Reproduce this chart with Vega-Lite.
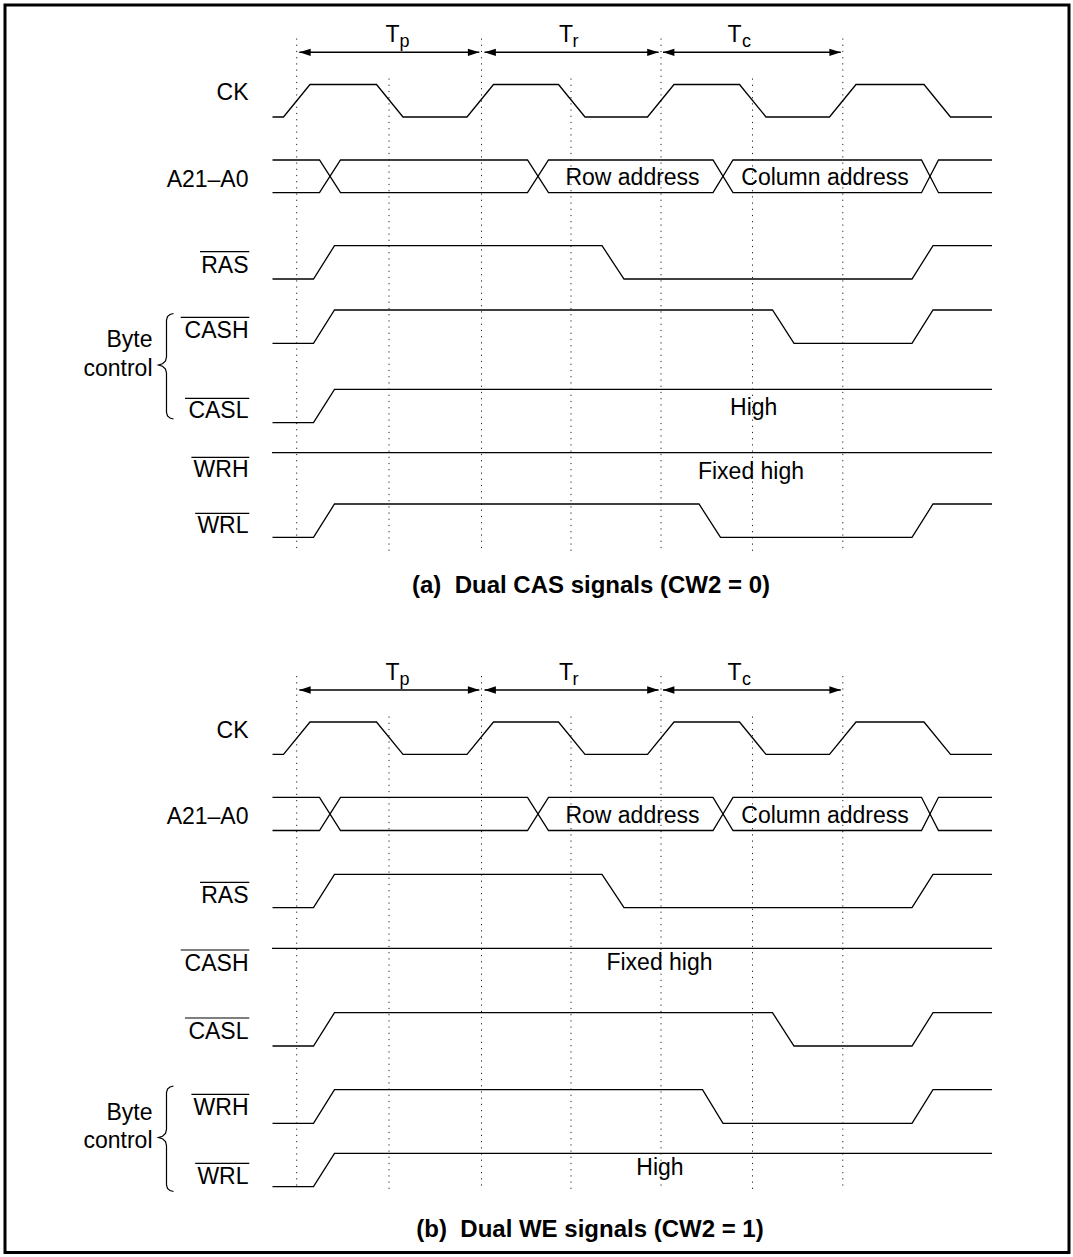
{
  "$schema": "https://vega.github.io/schema/vega-lite/v6.json",
  "width": 1073,
  "height": 1257,
  "autosize": {"type": "fit", "contains": "padding"},
  "padding": 0,
  "background": "white",
  "config": {"view": {"stroke": null}, "axis": {"disable": true}, "legend": {"disable": true}},
  "datasets": {
    "frame": [{"t1": 5, "t2": 1069, "v1": 5, "v2": 1252.5}],
    "dots": [
      {"t": 296.7, "v1": 38.5, "v2": 553}, {"t": 389, "v1": 78.5, "v2": 553}, {"t": 481.5, "v1": 38.5, "v2": 553},
      {"t": 571, "v1": 78.5, "v2": 553}, {"t": 661, "v1": 38.5, "v2": 553}, {"t": 752.5, "v1": 78.5, "v2": 553},
      {"t": 842.8, "v1": 38.5, "v2": 553},
      {"t": 296.7, "v1": 676, "v2": 1190.7}, {"t": 389, "v1": 716.5, "v2": 1190.7}, {"t": 481.5, "v1": 676, "v2": 1190.7},
      {"t": 571, "v1": 716.5, "v2": 1190.7}, {"t": 661, "v1": 676, "v2": 1190.7}, {"t": 752.5, "v1": 716.5, "v2": 1190.7},
      {"t": 842.8, "v1": 676, "v2": 1190.7}
    ],
    "waves": [
      {"s": "a_CK", "t": 272.5, "v": 117}, {"s": "a_CK", "t": 283.5, "v": 117}, {"s": "a_CK", "t": 310, "v": 84.5}, {"s": "a_CK", "t": 376.5, "v": 84.5}, {"s": "a_CK", "t": 403, "v": 117}, {"s": "a_CK", "t": 467, "v": 117}, {"s": "a_CK", "t": 493.5, "v": 84.5}, {"s": "a_CK", "t": 558.5, "v": 84.5}, {"s": "a_CK", "t": 585, "v": 117}, {"s": "a_CK", "t": 647.5, "v": 117}, {"s": "a_CK", "t": 674, "v": 84.5}, {"s": "a_CK", "t": 739.5, "v": 84.5}, {"s": "a_CK", "t": 766, "v": 117}, {"s": "a_CK", "t": 829.5, "v": 117}, {"s": "a_CK", "t": 856, "v": 84.5}, {"s": "a_CK", "t": 924, "v": 84.5}, {"s": "a_CK", "t": 950.5, "v": 117}, {"s": "a_CK", "t": 992, "v": 117},
      {"s": "b_CK", "t": 272.5, "v": 754.3}, {"s": "b_CK", "t": 283.5, "v": 754.3}, {"s": "b_CK", "t": 310, "v": 722}, {"s": "b_CK", "t": 376.5, "v": 722}, {"s": "b_CK", "t": 403, "v": 754.3}, {"s": "b_CK", "t": 467, "v": 754.3}, {"s": "b_CK", "t": 493.5, "v": 722}, {"s": "b_CK", "t": 558.5, "v": 722}, {"s": "b_CK", "t": 585, "v": 754.3}, {"s": "b_CK", "t": 647.5, "v": 754.3}, {"s": "b_CK", "t": 674, "v": 722}, {"s": "b_CK", "t": 739.5, "v": 722}, {"s": "b_CK", "t": 766, "v": 754.3}, {"s": "b_CK", "t": 829.5, "v": 754.3}, {"s": "b_CK", "t": 856, "v": 722}, {"s": "b_CK", "t": 924, "v": 722}, {"s": "b_CK", "t": 950.5, "v": 754.3}, {"s": "b_CK", "t": 992, "v": 754.3},
      {"s": "a_A1", "t": 272.5, "v": 160}, {"s": "a_A1", "t": 319.5, "v": 160}, {"s": "a_A1", "t": 340.5, "v": 192.7}, {"s": "a_A1", "t": 527.5, "v": 192.7}, {"s": "a_A1", "t": 548.5, "v": 160}, {"s": "a_A1", "t": 713, "v": 160}, {"s": "a_A1", "t": 733, "v": 192.7}, {"s": "a_A1", "t": 921.5, "v": 192.7}, {"s": "a_A1", "t": 938.5, "v": 160}, {"s": "a_A1", "t": 992, "v": 160},
      {"s": "a_A2", "t": 272.5, "v": 192.7}, {"s": "a_A2", "t": 319.5, "v": 192.7}, {"s": "a_A2", "t": 340.5, "v": 160}, {"s": "a_A2", "t": 527.5, "v": 160}, {"s": "a_A2", "t": 548.5, "v": 192.7}, {"s": "a_A2", "t": 713, "v": 192.7}, {"s": "a_A2", "t": 733, "v": 160}, {"s": "a_A2", "t": 921.5, "v": 160}, {"s": "a_A2", "t": 938.5, "v": 192.7}, {"s": "a_A2", "t": 992, "v": 192.7},
      {"s": "b_A1", "t": 272.5, "v": 797.3}, {"s": "b_A1", "t": 319.5, "v": 797.3}, {"s": "b_A1", "t": 340.5, "v": 830.5}, {"s": "b_A1", "t": 527.5, "v": 830.5}, {"s": "b_A1", "t": 548.5, "v": 797.3}, {"s": "b_A1", "t": 713, "v": 797.3}, {"s": "b_A1", "t": 733, "v": 830.5}, {"s": "b_A1", "t": 921.5, "v": 830.5}, {"s": "b_A1", "t": 938.5, "v": 797.3}, {"s": "b_A1", "t": 992, "v": 797.3},
      {"s": "b_A2", "t": 272.5, "v": 830.5}, {"s": "b_A2", "t": 319.5, "v": 830.5}, {"s": "b_A2", "t": 340.5, "v": 797.3}, {"s": "b_A2", "t": 527.5, "v": 797.3}, {"s": "b_A2", "t": 548.5, "v": 830.5}, {"s": "b_A2", "t": 713, "v": 830.5}, {"s": "b_A2", "t": 733, "v": 797.3}, {"s": "b_A2", "t": 921.5, "v": 797.3}, {"s": "b_A2", "t": 938.5, "v": 830.5}, {"s": "b_A2", "t": 992, "v": 830.5},
      {"s": "a_RAS", "t": 272.5, "v": 279}, {"s": "a_RAS", "t": 313.5, "v": 279}, {"s": "a_RAS", "t": 334.5, "v": 245.7}, {"s": "a_RAS", "t": 602, "v": 245.7}, {"s": "a_RAS", "t": 624, "v": 279}, {"s": "a_RAS", "t": 912, "v": 279}, {"s": "a_RAS", "t": 933, "v": 245.7}, {"s": "a_RAS", "t": 992, "v": 245.7},
      {"s": "a_CASH", "t": 272.5, "v": 343.3}, {"s": "a_CASH", "t": 313.5, "v": 343.3}, {"s": "a_CASH", "t": 334.5, "v": 310}, {"s": "a_CASH", "t": 772.5, "v": 310}, {"s": "a_CASH", "t": 794, "v": 343.3}, {"s": "a_CASH", "t": 912, "v": 343.3}, {"s": "a_CASH", "t": 933, "v": 310}, {"s": "a_CASH", "t": 992, "v": 310},
      {"s": "a_CASL", "t": 272.5, "v": 422.7}, {"s": "a_CASL", "t": 313.5, "v": 422.7}, {"s": "a_CASL", "t": 334.5, "v": 389.3}, {"s": "a_CASL", "t": 992, "v": 389.3},
      {"s": "a_WRH", "t": 272, "v": 452.7}, {"s": "a_WRH", "t": 992, "v": 452.7},
      {"s": "a_WRL", "t": 272.5, "v": 537.3}, {"s": "a_WRL", "t": 313.5, "v": 537.3}, {"s": "a_WRL", "t": 334.5, "v": 504}, {"s": "a_WRL", "t": 699, "v": 504}, {"s": "a_WRL", "t": 720.5, "v": 537.3}, {"s": "a_WRL", "t": 912, "v": 537.3}, {"s": "a_WRL", "t": 933, "v": 504}, {"s": "a_WRL", "t": 992, "v": 504},
      {"s": "b_RAS", "t": 272.5, "v": 907.7}, {"s": "b_RAS", "t": 313.5, "v": 907.7}, {"s": "b_RAS", "t": 334.5, "v": 874.3}, {"s": "b_RAS", "t": 602, "v": 874.3}, {"s": "b_RAS", "t": 624, "v": 907.7}, {"s": "b_RAS", "t": 912, "v": 907.7}, {"s": "b_RAS", "t": 933, "v": 874.3}, {"s": "b_RAS", "t": 992, "v": 874.3},
      {"s": "b_CASH", "t": 272, "v": 948.3}, {"s": "b_CASH", "t": 992, "v": 948.3},
      {"s": "b_CASL", "t": 272.5, "v": 1046}, {"s": "b_CASL", "t": 313.5, "v": 1046}, {"s": "b_CASL", "t": 334.5, "v": 1012.7}, {"s": "b_CASL", "t": 772.5, "v": 1012.7}, {"s": "b_CASL", "t": 794, "v": 1046}, {"s": "b_CASL", "t": 912, "v": 1046}, {"s": "b_CASL", "t": 933, "v": 1012.7}, {"s": "b_CASL", "t": 992, "v": 1012.7},
      {"s": "b_WRH", "t": 272.5, "v": 1123.3}, {"s": "b_WRH", "t": 313.5, "v": 1123.3}, {"s": "b_WRH", "t": 334.5, "v": 1089.7}, {"s": "b_WRH", "t": 702.5, "v": 1089.7}, {"s": "b_WRH", "t": 723, "v": 1123.3}, {"s": "b_WRH", "t": 912, "v": 1123.3}, {"s": "b_WRH", "t": 933, "v": 1089.7}, {"s": "b_WRH", "t": 992, "v": 1089.7},
      {"s": "b_WRL", "t": 272.5, "v": 1186.7}, {"s": "b_WRL", "t": 313.5, "v": 1186.7}, {"s": "b_WRL", "t": 334.5, "v": 1153.3}, {"s": "b_WRL", "t": 992, "v": 1153.3}
    ],
    "braces": [
      {"s": "a", "o": 1, "t": 173.5, "v": 313.5}, {"s": "a", "o": 2, "t": 170, "v": 314.5}, {"s": "a", "o": 3, "t": 167.5, "v": 316.5}, {"s": "a", "o": 4, "t": 166.5, "v": 320}, {"s": "a", "o": 5, "t": 166.5, "v": 357}, {"s": "a", "o": 6, "t": 165.5, "v": 361}, {"s": "a", "o": 7, "t": 162.5, "v": 363.8}, {"s": "a", "o": 8, "t": 158.5, "v": 365}, {"s": "a", "o": 9, "t": 162.5, "v": 366.2}, {"s": "a", "o": 10, "t": 165.5, "v": 369}, {"s": "a", "o": 11, "t": 166.5, "v": 373}, {"s": "a", "o": 12, "t": 166.5, "v": 412.5}, {"s": "a", "o": 13, "t": 167.5, "v": 416}, {"s": "a", "o": 14, "t": 170, "v": 418}, {"s": "a", "o": 15, "t": 173.5, "v": 419},
      {"s": "b", "o": 1, "t": 173.5, "v": 1086}, {"s": "b", "o": 2, "t": 170, "v": 1087}, {"s": "b", "o": 3, "t": 167.5, "v": 1089}, {"s": "b", "o": 4, "t": 166.5, "v": 1092.5}, {"s": "b", "o": 5, "t": 166.5, "v": 1129.5}, {"s": "b", "o": 6, "t": 165.5, "v": 1133.5}, {"s": "b", "o": 7, "t": 162.5, "v": 1136.3}, {"s": "b", "o": 8, "t": 158.5, "v": 1137.5}, {"s": "b", "o": 9, "t": 162.5, "v": 1138.7}, {"s": "b", "o": 10, "t": 165.5, "v": 1141.5}, {"s": "b", "o": 11, "t": 166.5, "v": 1145.5}, {"s": "b", "o": 12, "t": 166.5, "v": 1185}, {"s": "b", "o": 13, "t": 167.5, "v": 1188.5}, {"s": "b", "o": 14, "t": 170, "v": 1190.5}, {"s": "b", "o": 15, "t": 173.5, "v": 1191.5}
    ],
    "arrows": [
      {"t1": 299.3, "t2": 479.3, "v": 52.3}, {"t1": 484.5, "t2": 658.6, "v": 52.3}, {"t1": 663, "t2": 840.8, "v": 52.3},
      {"t1": 299.3, "t2": 479.3, "v": 690}, {"t1": 484.5, "t2": 658.6, "v": 690}, {"t1": 663, "t2": 840.8, "v": 690}
    ],
    "heads": [
      {"dir": "L", "t": 299.3, "v": 52.3}, {"dir": "R", "t": 479.3, "v": 52.3}, {"dir": "L", "t": 484.5, "v": 52.3}, {"dir": "R", "t": 658.6, "v": 52.3}, {"dir": "L", "t": 663, "v": 52.3}, {"dir": "R", "t": 840.8, "v": 52.3},
      {"dir": "L", "t": 299.3, "v": 690}, {"dir": "R", "t": 479.3, "v": 690}, {"dir": "L", "t": 484.5, "v": 690}, {"dir": "R", "t": 658.6, "v": 690}, {"dir": "L", "t": 663, "v": 690}, {"dir": "R", "t": 840.8, "v": 690}
    ],
    "overlines": [
      {"t1": 200, "t2": 249.3, "v": 251.7}, {"t1": 180.7, "t2": 249.3, "v": 317.3}, {"t1": 185, "t2": 249.3, "v": 398.3}, {"t1": 191.4, "t2": 249.3, "v": 457.3}, {"t1": 195.2, "t2": 249.3, "v": 513.3},
      {"t1": 200, "t2": 249.3, "v": 882.3}, {"t1": 180.7, "t2": 249.3, "v": 950}, {"t1": 185, "t2": 249.3, "v": 1018}, {"t1": 191.4, "t2": 249.3, "v": 1094.3}, {"t1": 195.2, "t2": 249.3, "v": 1163.3}
    ],
    "labelsRight": [
      {"txt": "CK", "t": 248.5, "v": 100}, {"txt": "A21–A0", "t": 248.5, "v": 186.7}, {"txt": "RAS", "t": 248.5, "v": 272.7}, {"txt": "CASH", "t": 248.5, "v": 338.3}, {"txt": "CASL", "t": 248.5, "v": 418.3}, {"txt": "WRH", "t": 248.5, "v": 476.7}, {"txt": "WRL", "t": 248.5, "v": 533.3},
      {"txt": "Byte", "t": 152.5, "v": 346.7}, {"txt": "control", "t": 152.5, "v": 376},
      {"txt": "CK", "t": 248.5, "v": 737.5}, {"txt": "A21–A0", "t": 248.5, "v": 824.2}, {"txt": "RAS", "t": 248.5, "v": 903.3}, {"txt": "CASH", "t": 248.5, "v": 970.7}, {"txt": "CASL", "t": 248.5, "v": 1039.3}, {"txt": "WRH", "t": 248.5, "v": 1115}, {"txt": "WRL", "t": 248.5, "v": 1184},
      {"txt": "Byte", "t": 152.5, "v": 1120}, {"txt": "control", "t": 152.5, "v": 1147.7}
    ],
    "labelsCenter": [
      {"txt": "Row address", "t": 632.5, "v": 185}, {"txt": "Column address", "t": 825, "v": 185}, {"txt": "High", "t": 753.7, "v": 415}, {"txt": "Fixed high", "t": 751, "v": 479.3},
      {"txt": "Row address", "t": 632.5, "v": 822.5}, {"txt": "Column address", "t": 825, "v": 822.5}, {"txt": "Fixed high", "t": 659.5, "v": 970}, {"txt": "High", "t": 660, "v": 1175}
    ],
    "titles": [
      {"txt": "(a)\u00a0 Dual CAS signals (CW2 = 0)", "t": 591, "v": 593.3},
      {"txt": "(b)\u00a0 Dual WE signals (CW2 = 1)", "t": 590, "v": 1236.7}
    ],
    "tees": [
      {"txt": "T", "t": 385.5, "v": 42}, {"txt": "T", "t": 559, "v": 42}, {"txt": "T", "t": 727.5, "v": 42},
      {"txt": "T", "t": 385.5, "v": 679.5}, {"txt": "T", "t": 559, "v": 679.5}, {"txt": "T", "t": 727.5, "v": 679.5}
    ],
    "subs": [
      {"txt": "p", "t": 399.5, "v": 47}, {"txt": "r", "t": 572.5, "v": 47}, {"txt": "c", "t": 742, "v": 47},
      {"txt": "p", "t": 399.5, "v": 684.5}, {"txt": "r", "t": 572.5, "v": 684.5}, {"txt": "c", "t": 742, "v": 684.5}
    ]
  },
  "layer": [
    {
      "data": {"name": "frame"},
      "mark": {"type": "rect", "fill": "transparent", "stroke": "black", "strokeWidth": 3},
      "encoding": {
        "x": {"field": "t1", "type": "quantitative", "scale": {"domain": [0, 1073], "nice": false, "zero": false}},
        "x2": {"field": "t2"},
        "y": {"field": "v1", "type": "quantitative", "scale": {"domain": [0, 1257], "nice": false, "zero": false, "reverse": true}},
        "y2": {"field": "v2"}
      }
    },
    {
      "data": {"name": "dots"},
      "mark": {"type": "rule", "stroke": "#222", "strokeWidth": 1, "strokeDash": [1.2, 5]},
      "encoding": {
        "x": {"field": "t", "type": "quantitative"},
        "y": {"field": "v1", "type": "quantitative"},
        "y2": {"field": "v2"}
      }
    },
    {
      "data": {"name": "waves"},
      "mark": {"type": "line", "color": "#000", "strokeWidth": 1.3},
      "encoding": {
        "x": {"field": "t", "type": "quantitative"},
        "y": {"field": "v", "type": "quantitative"},
        "detail": {"field": "s", "type": "nominal"}
      }
    },
    {
      "data": {"name": "braces"},
      "mark": {"type": "line", "color": "#000", "strokeWidth": 1.2},
      "encoding": {
        "x": {"field": "t", "type": "quantitative"},
        "y": {"field": "v", "type": "quantitative"},
        "detail": {"field": "s", "type": "nominal"},
        "order": {"field": "o", "type": "quantitative"}
      }
    },
    {
      "data": {"name": "arrows"},
      "mark": {"type": "rule", "color": "#000", "strokeWidth": 1.5},
      "encoding": {
        "x": {"field": "t1", "type": "quantitative"},
        "x2": {"field": "t2"},
        "y": {"field": "v", "type": "quantitative"}
      }
    },
    {
      "data": {"name": "heads"},
      "mark": {"type": "point", "filled": true, "color": "#000", "opacity": 1, "size": 520, "strokeWidth": 0},
      "encoding": {
        "x": {"field": "t", "type": "quantitative"},
        "y": {"field": "v", "type": "quantitative"},
        "shape": {"field": "dir", "type": "nominal", "scale": {"domain": ["L", "R"], "range": ["M0,0L1,-0.32L1,0.32Z", "M0,0L-1,-0.32L-1,0.32Z"]}}
      }
    },
    {
      "data": {"name": "overlines"},
      "mark": {"type": "rule", "color": "#000", "strokeWidth": 1.2},
      "encoding": {
        "x": {"field": "t1", "type": "quantitative"},
        "x2": {"field": "t2"},
        "y": {"field": "v", "type": "quantitative"}
      }
    },
    {
      "data": {"name": "labelsRight"},
      "mark": {"type": "text", "align": "right", "baseline": "alphabetic", "font": "Liberation Sans", "fontSize": 23, "color": "#000"},
      "encoding": {
        "x": {"field": "t", "type": "quantitative"},
        "y": {"field": "v", "type": "quantitative"},
        "text": {"field": "txt"}
      }
    },
    {
      "data": {"name": "labelsCenter"},
      "mark": {"type": "text", "align": "center", "baseline": "alphabetic", "font": "Liberation Sans", "fontSize": 23, "color": "#000"},
      "encoding": {
        "x": {"field": "t", "type": "quantitative"},
        "y": {"field": "v", "type": "quantitative"},
        "text": {"field": "txt"}
      }
    },
    {
      "data": {"name": "titles"},
      "mark": {"type": "text", "align": "center", "baseline": "alphabetic", "font": "Liberation Sans", "fontSize": 24, "fontWeight": "bold", "color": "#000"},
      "encoding": {
        "x": {"field": "t", "type": "quantitative"},
        "y": {"field": "v", "type": "quantitative"},
        "text": {"field": "txt"}
      }
    },
    {
      "data": {"name": "tees"},
      "mark": {"type": "text", "align": "left", "baseline": "alphabetic", "font": "Liberation Sans", "fontSize": 23, "color": "#000"},
      "encoding": {
        "x": {"field": "t", "type": "quantitative"},
        "y": {"field": "v", "type": "quantitative"},
        "text": {"field": "txt"}
      }
    },
    {
      "data": {"name": "subs"},
      "mark": {"type": "text", "align": "left", "baseline": "alphabetic", "font": "Liberation Sans", "fontSize": 18, "color": "#000"},
      "encoding": {
        "x": {"field": "t", "type": "quantitative"},
        "y": {"field": "v", "type": "quantitative"},
        "text": {"field": "txt"}
      }
    }
  ]
}
